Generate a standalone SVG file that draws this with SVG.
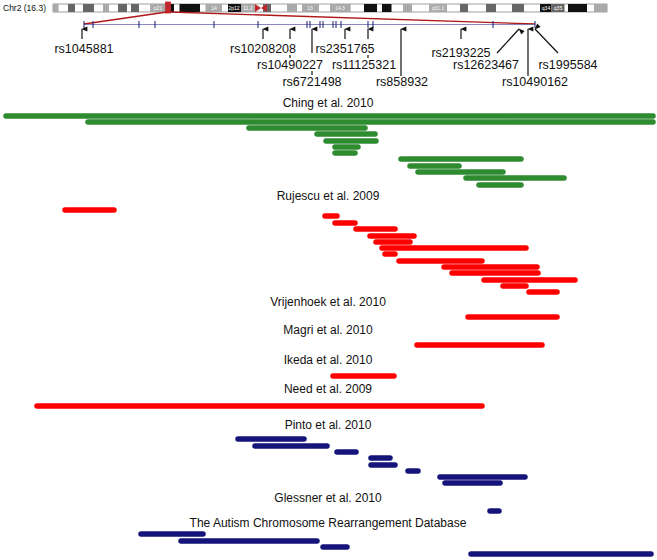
<svg xmlns="http://www.w3.org/2000/svg" width="657" height="560" viewBox="0 0 657 560">
<style>
text{font-family:"Liberation Sans",Arial,sans-serif;fill:#111}
.lab{font-size:12.5px;text-anchor:middle}
.st{font-size:12px;text-anchor:middle}
.bt{font-size:5px;fill:#fff;text-anchor:middle}
.g line{stroke:#2e8b30}
.r line{stroke:#ff0000}
.b line{stroke:#14147a}
.bars line{stroke-width:5.5;stroke-linecap:round}
.ar{stroke:#111;stroke-width:1.2;fill:none}
.dk{fill:#111}.md{fill:#666}.lg{fill:#aaa}
</style>
<defs><marker id="ah" viewBox="0 0 10 10" refX="5" refY="1" markerWidth="5" markerHeight="6" orient="auto-start-reverse"><path d="M5,0 L9,10 L1,10 Z" fill="#111"/></marker></defs>
<g id="ideogram">
<text x="3" y="11" style="font-size:8.5px">Chr2 (16.3)</text>
<rect x="53" y="4" width="554" height="8" fill="#fff" stroke="#888" stroke-width="0.8"/>
<rect class="lg" x="53" y="4" width="5.6" height="8"/>
<rect class="md" x="68" y="4" width="7" height="8"/>
<rect class="md" x="83" y="4" width="11" height="8"/>
<rect class="lg" x="103" y="4" width="6" height="8"/>
<rect class="md" x="118" y="4" width="9" height="8"/>
<rect class="md" x="131" y="4" width="8" height="8"/>
<rect class="lg" x="150" y="4" width="16" height="8"/>
<rect class="dk" x="166" y="4" width="8" height="8"/>
<rect class="dk" x="179.5" y="4" width="20.5" height="8"/>
<rect class="lg" x="205.5" y="4" width="16.5" height="8"/>
<rect class="dk" x="228" y="4" width="13" height="8"/>
<rect class="lg" x="241" y="4" width="15" height="8"/>
<rect class="md" x="263" y="4" width="8" height="8"/>
<rect class="lg" x="287" y="4" width="10" height="8"/>
<rect class="lg" x="302" y="4" width="17" height="8"/>
<rect class="lg" x="330" y="4" width="20.6" height="8"/>
<rect class="dk" x="364" y="4" width="13" height="8"/>
<rect class="dk" x="382" y="4" width="9.5" height="8"/>
<rect class="lg" x="403" y="4" width="9" height="8"/>
<rect class="lg" x="429" y="4" width="18" height="8"/>
<rect class="md" x="460" y="4" width="8" height="8"/>
<rect class="md" x="486" y="4" width="10" height="8"/>
<rect class="md" x="512" y="4" width="12" height="8"/>
<rect class="dk" x="540" y="4" width="11.5" height="8"/>
<rect class="md" x="551.5" y="4" width="13" height="8"/>
<rect class="dk" x="568" y="4" width="19" height="8"/>
<rect class="lg" x="594" y="4" width="13" height="8"/>
<path d="M255,4 L261,8 L255,12 Z M267,4 L261,8 L267,12 Z" fill="#c0282d"/>
<rect x="255" y="3" width="12" height="10" fill="#fff" opacity="0"/>
<text class="bt" x="158" y="10">p21</text>
<text class="bt" x="214" y="10">14</text>
<text class="bt" x="234" y="10">2p12</text>
<text class="bt" x="248" y="10">11.2</text>
<text class="bt" x="310" y="10">13</text>
<text class="bt" x="340" y="10">14.3</text>
<text class="bt" x="438" y="10">q31.1</text>
<text class="bt" x="546" y="10">q34</text>
<text class="bt" x="558" y="10">q35</text>
<rect x="165.5" y="2" width="5" height="11" fill="#c0282d" stroke="#c0282d" stroke-width="0.8"/>
<path d="M167,12 L84,24 M170,12 L535,24" stroke="#b01818" stroke-width="1.3" fill="none"/>
</g>
<g id="gene">
<line x1="84" y1="24.5" x2="535" y2="24.5" stroke="#6a6ab0" stroke-width="0.8"/>
<g stroke="#1a1a70" stroke-width="1">
<path d="M84,21v7M93,21v7M139,21v7M155,21v7M214,21v7M258,21v7M307,21v7M310,21v7M320,21v7M323,21v7M333,21v7M336,21v7M341,21v7M368,21v7M373,21v7M493,21v7M535,21v7"/>
</g>
</g>
<g id="snp-connectors">
<line class="ar" x1="82" y1="39" x2="82" y2="29" marker-end="url(#ah)"/>
<line class="ar" x1="263" y1="39" x2="263" y2="29" marker-end="url(#ah)"/>
<line class="ar" x1="290" y1="39" x2="290" y2="29" marker-end="url(#ah)"/>
<line class="ar" x1="290" y1="55" x2="290" y2="58"/>
<line class="ar" x1="312" y1="53" x2="312" y2="29" marker-end="url(#ah)"/>
<line class="ar" x1="312" y1="71" x2="312" y2="75"/>
<line class="ar" x1="345" y1="39" x2="345" y2="29" marker-end="url(#ah)"/>
<line class="ar" x1="368" y1="39" x2="368" y2="29" marker-end="url(#ah)"/>
<line class="ar" x1="368" y1="55" x2="368" y2="58"/>
<line class="ar" x1="401" y1="76" x2="401" y2="29" marker-end="url(#ah)"/>
<line class="ar" x1="461" y1="39" x2="461" y2="29" marker-end="url(#ah)"/>
<line class="ar" x1="497" y1="53" x2="519" y2="29" marker-end="url(#ah)"/>
<line class="ar" x1="528" y1="76" x2="528" y2="29" marker-end="url(#ah)"/>
<line class="ar" x1="558" y1="53" x2="535" y2="29" marker-end="url(#ah)"/>
</g>
<g id="snp-labels">
<text class="lab" x="84" y="53">rs1045881</text>
<text class="lab" x="263" y="53">rs10208208</text>
<text class="lab" x="290" y="69">rs10490227</text>
<text class="lab" x="312" y="86">rs6721498</text>
<text class="lab" x="345" y="53">rs2351765</text>
<text class="lab" x="364" y="69">rs11125321</text>
<text class="lab" x="402" y="86">rs858932</text>
<text class="lab" x="461" y="57">rs2193225</text>
<text class="lab" x="486" y="69">rs12623467</text>
<text class="lab" x="535" y="86">rs10490162</text>
<text class="lab" x="568" y="69">rs1995584</text>
</g>
<g id="study-labels">
<text class="st" x="328" y="107">Ching et al. 2010</text>
<text class="st" x="328" y="200">Rujescu et al. 2009</text>
<text class="st" x="328" y="306">Vrijenhoek et al. 2010</text>
<text class="st" x="328" y="334">Magri et al. 2010</text>
<text class="st" x="328" y="364">Ikeda et al. 2010</text>
<text class="st" x="328" y="393">Need et al. 2009</text>
<text class="st" x="328" y="429">Pinto et al. 2010</text>
<text class="st" x="328" y="502">Glessner et al. 2010</text>
<text class="st" x="328" y="527">The Autism Chromosome Rearrangement Database</text>
</g>
<g id="bars" class="bars">
<g class="g">
<line x1="6" y1="116" x2="653" y2="116"/>
<line x1="88" y1="122" x2="653" y2="122"/>
<line x1="249" y1="128" x2="365" y2="128"/>
<line x1="317" y1="134" x2="375" y2="134"/>
<line x1="326" y1="141" x2="376" y2="141"/>
<line x1="335" y1="147" x2="358" y2="147"/>
<line x1="335" y1="153" x2="355" y2="153"/>
<line x1="401" y1="159" x2="521" y2="159"/>
<line x1="410" y1="166" x2="459" y2="166"/>
<line x1="418" y1="172" x2="503" y2="172"/>
<line x1="466" y1="178" x2="564" y2="178"/>
<line x1="479" y1="185" x2="521" y2="185"/>
</g>
<g class="r">
<line x1="65" y1="210" x2="114" y2="210"/>
<line x1="325" y1="216" x2="337" y2="216"/>
<line x1="335" y1="223" x2="355" y2="223"/>
<line x1="356" y1="229" x2="395" y2="229"/>
<line x1="370" y1="236" x2="414" y2="236"/>
<line x1="376" y1="242" x2="410" y2="242"/>
<line x1="382" y1="248" x2="526" y2="248"/>
<line x1="385" y1="254" x2="395" y2="254"/>
<line x1="399" y1="261" x2="482" y2="261"/>
<line x1="444" y1="267" x2="537" y2="267"/>
<line x1="452" y1="273" x2="538" y2="273"/>
<line x1="484" y1="280" x2="575" y2="280"/>
<line x1="503" y1="286" x2="526" y2="286"/>
<line x1="529" y1="292" x2="557" y2="292"/>
<line x1="468" y1="317" x2="557" y2="317"/>
<line x1="417" y1="345" x2="542" y2="345"/>
<line x1="333" y1="376" x2="394" y2="376"/>
<line x1="37" y1="406" x2="482" y2="406"/>
</g>
<g class="b">
<line x1="238" y1="439" x2="304" y2="439"/>
<line x1="255" y1="446" x2="327" y2="446"/>
<line x1="337" y1="452" x2="356" y2="452"/>
<line x1="371" y1="458" x2="390" y2="458"/>
<line x1="371" y1="465" x2="395" y2="465"/>
<line x1="408" y1="471" x2="418" y2="471"/>
<line x1="440" y1="477" x2="525" y2="477"/>
<line x1="445" y1="483" x2="500" y2="483"/>
<line x1="490" y1="511" x2="499" y2="511"/>
<line x1="141" y1="534" x2="203" y2="534"/>
<line x1="181" y1="541" x2="317" y2="541"/>
<line x1="323" y1="547" x2="347" y2="547"/>
<line x1="471" y1="554" x2="651" y2="554"/>
</g>
</g>
</svg>
